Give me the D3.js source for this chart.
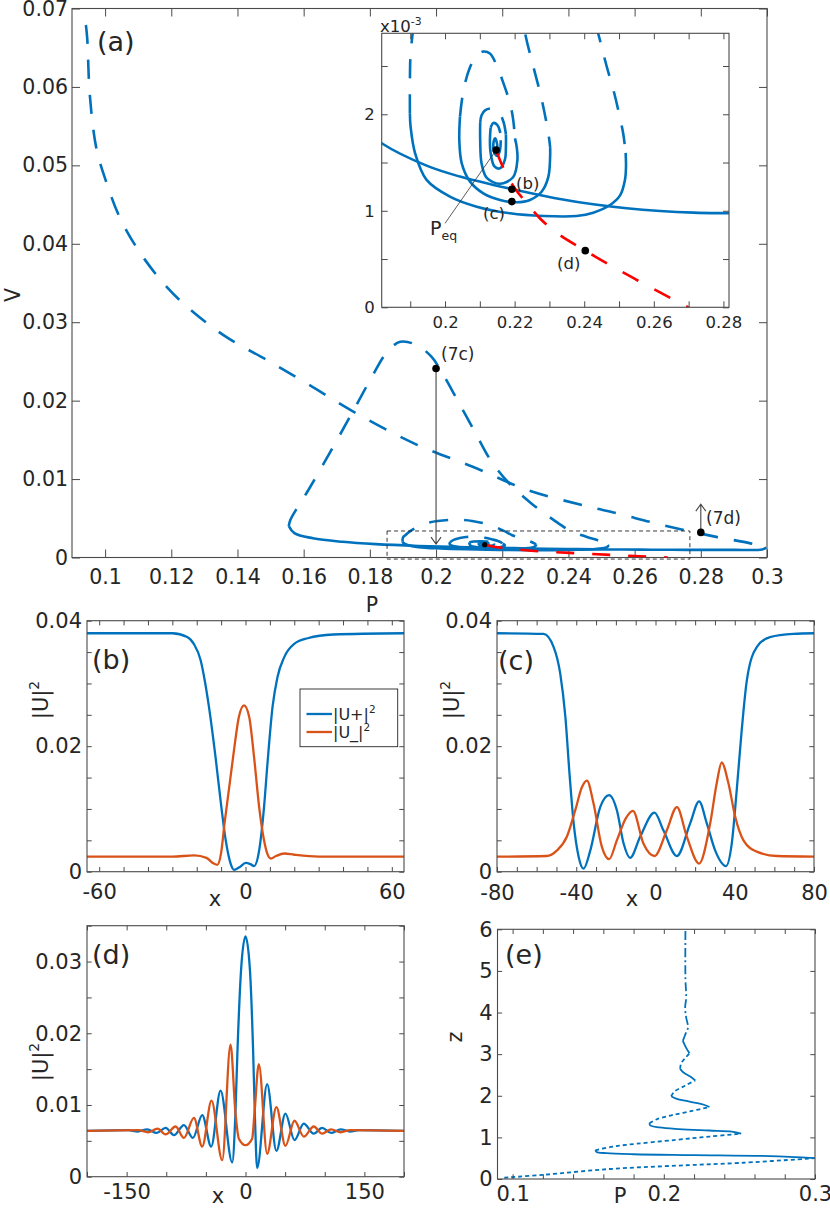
<!DOCTYPE html>
<html>
<head>
<meta charset="utf-8">
<script src="https://cdn.jsdelivr.net/npm/d3@7"></script>
<style>
  body { margin: 0; background: #fff; }
  svg text { font-family: "DejaVu Sans", sans-serif; fill: #262626; }
</style>
</head>
<body>
<script>
// ---------- data ----------
// (a) bifurcation branch: [P, V, stable?]  (0 = unstable/dashed, 1 = stable/solid)
const branch = [
  [0.0942,0.0679,0],[0.0946,0.0662,0],[0.0954,0.0589,0],[0.0974,0.0521,0],[0.1005,0.0477,0],[0.1045,0.0433,0],
  [0.1105,0.0389,0],[0.1186,0.0345,0],[0.1266,0.0313,0],[0.1367,0.0281,0],[0.1488,0.0252,0],[0.1609,0.0222,0],
  [0.175,0.0186,0],[0.1941,0.0144,0],[0.2109,0.0116,0],[0.2277,0.0086,0],[0.245,0.0066,0],[0.255,0.0056,0],
  [0.265,0.0045,0],[0.275,0.0035,0],[0.285,0.0026,0],[0.295,0.0018,0],[0.2998,0.00125,0],
  [0.2998,0.00125,1],[0.2985,0.00102,1],[0.29,0.00097,1],[0.2816,0.000974,1],[0.2714,0.000981,1],[0.2618,0.000998,1],
  [0.2522,0.001026,1],[0.2426,0.001067,1],[0.233,0.001123,1],[0.2235,0.001192,1],[0.2139,0.001268,1],[0.2043,0.001354,1],
  [0.1947,0.001468,1],[0.1818,0.0017,1],[0.1717,0.002,1],[0.1628,0.00245,1],[0.1572,0.0031,1],[0.1555,0.004,1],
  [0.1555,0.004,0],[0.156,0.0048,0],[0.1617,0.0088,0],[0.1689,0.0141,0],[0.1751,0.0188,0],[0.1807,0.0231,0],
  [0.1852,0.0262,0],[0.1892,0.0275,0],[0.1941,0.0271,0],[0.1986,0.0256,0],[0.2019,0.0235,0],[0.2064,0.0201,0],
  [0.212,0.0158,0],[0.2165,0.0124,0],[0.222,0.0095,0],[0.2288,0.0069,0],[0.2355,0.0048,0],[0.241,0.0033,0],
  [0.245,0.0027,0],[0.2465,0.00249,0],[0.2484,0.00225,0],[0.2498,0.00204,0],[0.2512,0.0018,0],[0.2519,0.0016,0],
  [0.2519,0.0016,1],[0.252,0.00146,1],[0.2517,0.00132,1],[0.2503,0.00116,1],[0.2474,0.00106,1],[0.2426,0.00098,1],
  [0.2378,0.000946,1],[0.2283,0.000946,1],[0.2187,0.000974,1],[0.2091,0.001043,1],[0.2014,0.001147,1],[0.1947,0.00132,1],
  [0.1914,0.001596,1],[0.1901,0.001872,1],[0.1899,0.00201,1],
  [0.1899,0.00201,0],[0.1899,0.00232,0],[0.1901,0.00263,0],[0.1907,0.00284,0],[0.192,0.0033,0],[0.1964,0.0043,0],
  [0.2043,0.0048,0],[0.2109,0.00466,0],[0.2165,0.0041,0],[0.2205,0.0034,0],[0.223,0.00284,0],[0.2254,0.00249,0],
  [0.2278,0.00215,0],[0.2297,0.0018,0],[0.2302,0.00166,0],
  [0.2302,0.00166,1],[0.2302,0.00156,1],[0.2297,0.001354,1],[0.2278,0.0012,1],[0.2244,0.001112,1],[0.2206,0.001088,1],
  [0.2158,0.001112,1],[0.211,0.001181,1],[0.2072,0.001302,1],[0.2048,0.001492,1],[0.2041,0.001734,1],[0.2043,0.001976,1],
  [0.2043,0.001976,0],[0.2053,0.00225,0],[0.2072,0.00249,0],[0.2091,0.00261,0],[0.211,0.00265,0],[0.2129,0.00263,0],
  [0.2148,0.00251,0],[0.2168,0.00232,0],[0.2187,0.00211,0],[0.2196,0.00194,0],[0.2201,0.00175,0],
  [0.2201,0.00175,1],[0.2206,0.00166,1],[0.2208,0.00153,1],[0.2196,0.00135,1],[0.2158,0.00128,1],[0.212,0.00134,1],
  [0.2105,0.00149,1],[0.2101,0.00173,1],[0.2101,0.00191,1],
  [0.2101,0.00191,0],[0.2105,0.00199,0],[0.2115,0.00204,0],[0.2134,0.00206,0],[0.2153,0.00203,0],[0.2168,0.00192,0],[0.2175,0.00179,0],
  [0.2175,0.00179,1],[0.2175,0.00167,1],[0.2172,0.00153,1],[0.2158,0.00144,1],[0.2142,0.00146,1],[0.2131,0.0016,1],
  [0.2129,0.00173,1],[0.2131,0.00186,1],
  [0.2131,0.00186,0],[0.2139,0.00191,0],[0.215,0.00189,0],[0.2158,0.00182,0],[0.216,0.00173,0],
  [0.216,0.00173,1],[0.2158,0.00163,1],[0.2151,0.00157,1],[0.2142,0.0016,1],[0.2139,0.0017,1],[0.2144,0.00175,1],
  [0.2148,0.00172,1],[0.215,0.00165,1],[0.2147,0.00163,1]
];
// red (dashed) branch from P_eq
const redP = [0.2147, 0.2172, 0.2201, 0.2235, 0.2273, 0.2311, 0.2403, 0.2551, 0.27];
const redV = [0.00162, 0.00141, 0.00123, 0.00108, 0.00092, 0.0008, 0.000587, 0.000283, 0.0];
// marked points
const pEq = [0.2147, 0.00163];
const ptB = [0.2192, 0.001223];
const ptC = [0.2192, 0.001095];
const ptD = [0.2403, 0.000587];
const pt7c = [0.2, 0.0241], arrow7cEnd = 0.0017;
const pt7d = [0.28, 0.0032], arrow7dEnd = 0.0068;
const zoomBoxP = [0.1852, 0.2767], zoomBoxV = [-0.0002, 0.00338];

// (b) profiles
const bPlusX = [-65,-30,-23.9,-21.2,-18.4,-16.5,-15,-12.3,-9.9,-8.1,-6.1,-4.7,-2.5,0.1,2,3.5,5.6,7.6,9,11.1,13.1,15.9,20,25.5,36,65];
const bPlus  = [0.038,0.038,0.0374,0.0363,0.0337,0.030,0.0263,0.0183,0.0103,0.005,0.0013,0.0003,0.0007,0.0014,0.0012,0.0009,0.0034,0.0103,0.0172,0.0263,0.031,0.0342,0.0363,0.0372,0.0378,0.038];
const bMinusX = [-65,-30,-21,-16,-13,-11.6,-10,-8.6,-6.5,-4.7,-2.7,-0.6,1.5,3.5,5.6,7.6,9,10.4,12.5,15.9,20,30,65];
const bMinus  = [0.0024,0.0024,0.0026,0.0022,0.0013,0.0011,0.003,0.0077,0.014,0.0194,0.0247,0.0265,0.0247,0.0183,0.0103,0.005,0.0028,0.0021,0.0025,0.0029,0.0027,0.0024,0.0024];

// (c) profiles
const cPlusX = [-80,-56.5,-51.4,-48.1,-45.5,-43.4,-41.3,-38.8,-36.3,-32.9,-27.9,-23.4,-19.5,-16.1,-12.8,-7.7,-0.5,4,10.8,17.5,22,25.9,30.1,35.6,38.5,41,43.5,46.1,51.1,57.8,69.6,80];
const cPlus  = [0.038,0.0379,0.0358,0.0316,0.0247,0.0156,0.0077,0.0024,0.0005,0.0034,0.0103,0.0122,0.0098,0.0045,0.0022,0.0056,0.0094,0.0066,0.0025,0.0077,0.0112,0.0077,0.0034,0.0009,0.0045,0.013,0.0225,0.0305,0.0358,0.0374,0.0379,0.038];
const cMinusX = [-80,-55,-49.7,-44.7,-40.5,-37.1,-34.6,-31.3,-27.1,-23.4,-19.5,-15,-11.4,-6.1,-0.5,5.7,10.8,15.8,22,27.6,30.9,33.4,36.8,40.2,44.4,51.1,61.2,80];
const cMinus  = [0.0024,0.0025,0.0034,0.0056,0.0098,0.0135,0.0145,0.0109,0.004,0.002,0.005,0.0085,0.0097,0.0045,0.0025,0.0066,0.0103,0.0056,0.0013,0.0077,0.0141,0.0174,0.0141,0.0088,0.005,0.0032,0.0025,0.0024];

// (d) profiles
const dPlusX = [-200,-148,-136,-124,-112,-100.8,-90.3,-77.7,-66.4,-54.6,-43.3,-31.5,-16.8,-13,-10,-5.5,0,5.5,9.5,12,14.7,27.3,39,50.4,61.8,73.5,86.1,96.6,108,120,132,143,200];
const dPlus  = [0.0064,0.0065,0.0063,0.0066,0.0061,0.0068,0.0058,0.0072,0.0054,0.0086,0.0042,0.012,0.002,0.008,0.018,0.029,0.0335,0.029,0.018,0.008,0.0012,0.0129,0.0036,0.0088,0.0051,0.0074,0.006,0.0068,0.0061,0.0066,0.0063,0.0065,0.0064];
const dMinusX = [-200,-135,-123,-111,-100.8,-88.2,-77.7,-65.1,-54.6,-42.9,-29.4,-18.9,-12.6,-8.4,0,8.4,11.3,16.8,27.3,39,50.4,61.8,73.5,86.1,96.6,108,120,132,200];
const dMinus  = [0.0064,0.0065,0.0062,0.0067,0.0059,0.007,0.0054,0.0082,0.0042,0.0106,0.0023,0.0184,0.0088,0.0053,0.0044,0.0053,0.0088,0.0157,0.0032,0.0097,0.0043,0.0078,0.0056,0.007,0.006,0.0066,0.0062,0.0065,0.0064];

// (e) P(z): [P, z, style]  0 = dotted, 1 = solid, 2 = dash-dot
const pz = [
  [0.0945,0.03,0],[0.12,0.10,0],[0.164,0.24,0],[0.208,0.32,0],[0.2523,0.39,0],[0.2998,0.5,0],
  [0.2998,0.5,1],[0.27,0.55,1],[0.22,0.575,1],[0.18,0.595,1],[0.162,0.62,1],[0.1555,0.65,1],[0.1547,0.69,1],
  [0.1547,0.69,0],[0.165,0.77,0],[0.175,0.82,0],[0.208,0.94,0],[0.2302,1.02,0],[0.2512,1.09,0],
  [0.2512,1.09,1],[0.245,1.14,1],[0.23,1.165,1],[0.21,1.2,1],[0.197,1.24,1],[0.191,1.29,1],[0.1905,1.34,1],
  [0.1905,1.34,0],[0.195,1.43,0],[0.205,1.53,0],[0.218,1.63,0],[0.2302,1.73,0],
  [0.2302,1.73,1],[0.226,1.79,1],[0.217,1.86,1],[0.2082,1.93,1],[0.2049,1.99,1],
  [0.2049,1.99,0],[0.207,2.1,0],[0.214,2.24,0],[0.2208,2.37,0],
  [0.2208,2.37,1],[0.218,2.45,1],[0.2126,2.57,1],[0.2108,2.65,1],
  [0.2108,2.65,0],[0.2115,2.78,0],[0.2145,2.92,0],[0.217,3.02,0],
  [0.217,3.02,1],[0.2148,3.15,1],[0.2126,3.32,1],
  [0.2126,3.32,2],[0.2145,3.5,2],[0.216,3.64,2],[0.2148,3.88,2],[0.2141,4.1,2],[0.2148,4.38,2],[0.2143,4.8,2],[0.2143,6,2]
];

// ticks
const aXTicks = [0.1,0.12,0.14,0.16,0.18,0.2,0.22,0.24,0.26,0.28,0.3];
const aYTicks = [0,0.01,0.02,0.03,0.04,0.05,0.06,0.07];
const iXTicks = [0.19,0.2,0.21,0.22,0.23,0.24,0.25,0.26,0.27,0.28];
const iXLabels = [0.2,0.22,0.24,0.26,0.28];
const iYTicks = [0,0.0005,0.001,0.0015,0.002,0.0025];
const iYLabels = [0,0.001,0.002];
const bXTicks = [-60,-50,-40,-30,-20,-10,0,10,20,30,40,50,60];
const bXLabels = [-60,0,60];
const cXTicks = [-80,-70,-60,-50,-40,-30,-20,-10,0,10,20,30,40,50,60,70,80];
const cXLabels = [-80,-40,0,40,80];
const uYTicks = [0,0.005,0.01,0.015,0.02,0.025,0.03,0.035,0.04];
const uYLabels = [0,0.02,0.04];
const dXTicks = [-200,-150,-100,-50,0,50,100,150,200];
const dXLabels = [-150,0,150];
const dYTicks = [0,0.005,0.01,0.015,0.02,0.025,0.03,0.035];
const dYLabels = [0,0.01,0.02,0.03];
const eXTicks = [0.1,0.12,0.14,0.16,0.18,0.2,0.22,0.24,0.26,0.28,0.3];
const eXLabels = [0.1,0.2,0.3];
const eYTicks = [0,1,2,3,4,5,6];

// ---------- drawing ----------
const BLUE = "#0072BD", ORANGE = "#D95319", RED = "#FF0000", AXC = "#4a4a4a";
const svg = d3.select("body").append("svg").attr("width", 830).attr("height", 1208);
const defs = svg.append("defs");
let clipN = 0;
const has = (arr, d) => arr.some(v => Math.abs(v - d) < 1e-9);
const num = d => String(+d.toFixed(6));

function clipFor(x, y) {
  const id = "clip" + (clipN++);
  const [x0, x1] = x.range(), [y0, y1] = y.range();
  defs.append("clipPath").attr("id", id).append("rect")
    .attr("x", x0).attr("y", y1).attr("width", x1 - x0).attr("height", y0 - y1);
  return "url(#" + id + ")";
}

function axes(g, o) {
  const [x0, x1] = o.x.range(), [y0, y1] = o.y.range();
  const put = (gen, tr) => g.append("g").attr("transform", tr).call(gen)
    .call(s => s.select(".domain").remove())
    .call(s => s.selectAll("line").attr("stroke", AXC).attr("stroke-width", 1))
    .call(s => s.selectAll("text").attr("fill", "#262626").attr("font-size", o.font)
      .attr("font-family", "DejaVu Sans, sans-serif"));
  put(d3.axisBottom(o.x).tickValues(o.xt).tickSize(-o.tick).tickPadding(o.padX)
      .tickFormat(d => has(o.xl, d) ? (o.fx || num)(d) : ""), `translate(0,${y0})`);
  put(d3.axisTop(o.x).tickValues(o.xt).tickSize(-o.tick).tickFormat(""), `translate(0,${y1})`);
  put(d3.axisLeft(o.y).tickValues(o.yt).tickSize(-o.tick).tickPadding(o.padY)
      .tickFormat(d => has(o.yl, d) ? (o.fy || num)(d) : ""), `translate(${x0},0)`);
  put(d3.axisRight(o.y).tickValues(o.yt).tickSize(-o.tick).tickFormat(""), `translate(${x1},0)`);
  g.append("rect").attr("x", x0).attr("y", y1).attr("width", x1 - x0).attr("height", y0 - y1)
    .attr("fill", "none").attr("stroke", AXC).attr("stroke-width", 1.1);
}

function styledRuns(g, pts, x, y, styles, clip) {
  const runs = [];
  let cur = null;
  pts.forEach(p => {
    if (!cur || cur.s !== p[2]) { cur = { s: p[2], pts: [] }; runs.push(cur); }
    cur.pts.push(p);
  });
  const line = d3.line().x(d => x(d[0])).y(d => y(d[1])).curve(d3.curveCatmullRom.alpha(0.5));
  runs.forEach(r => {
    const st = styles[r.s];
    g.append("path").attr("d", line(r.pts)).attr("clip-path", clip)
      .attr("fill", "none").attr("stroke", st.color).attr("stroke-width", st.width)
      .attr("stroke-dasharray", st.dash).attr("stroke-linejoin", "round");
  });
}

function text(g, s, x, y, size, extra) {
  const t = g.append("text").attr("x", x).attr("y", y).attr("font-size", size).text(s);
  if (extra) extra(t);
  return t;
}
function supText(g, base, sup, x, y, size, anchor, rotate) {
  const t = g.append("text").attr("font-size", size).attr("text-anchor", anchor || "start");
  if (rotate) t.attr("transform", `translate(${x},${y}) rotate(-90)`);
  else t.attr("x", x).attr("y", y);
  t.append("tspan").text(base);
  t.append("tspan").attr("font-size", size * 0.66).attr("dy", -size * 0.42).text(sup);
  return t;
}

function arrow(g, x, ya, yb) {
  const dir = yb > ya ? 1 : -1;
  g.append("path")
    .attr("d", `M${x},${ya}V${yb}M${x - 5},${yb - dir * 7}L${x},${yb}L${x + 5},${yb - dir * 7}`)
    .attr("fill", "none").attr("stroke", "#444").attr("stroke-width", 1.1);
}

// ===== panel (a) =====
const xA = d3.scaleLinear().domain([0.09, 0.3]).range([72, 767]);
const yA = d3.scaleLinear().domain([0, 0.07]).range([557.5, 8.5]);
const gA = svg.append("g");
axes(gA, { x: xA, y: yA, xt: aXTicks, xl: aXTicks, yt: aYTicks, yl: aYTicks, tick: 8, font: 20.5, padX: 12, padY: 4 });
const clipA = clipFor(xA, yA);
const branchStyles = [
  { color: BLUE, width: 2.6, dash: "19,16" },
  { color: BLUE, width: 2.6, dash: null }
];
styledRuns(gA, branch, xA, yA, branchStyles, clipA);
const redLine = (x, y) => d3.line().x(d => x(d[0])).y(d => y(d[1])).curve(d3.curveMonotoneX);
gA.append("path").attr("d", redLine(xA, yA)(d3.zip(redP, redV))).attr("clip-path", clipA)
  .attr("fill", "none").attr("stroke", RED).attr("stroke-width", 2.6).attr("stroke-dasharray", "18,18");
// zoom box
gA.append("rect").attr("x", xA(zoomBoxP[0])).attr("y", yA(zoomBoxV[1]))
  .attr("width", xA(zoomBoxP[1]) - xA(zoomBoxP[0])).attr("height", yA(zoomBoxV[0]) - yA(zoomBoxV[1]))
  .attr("fill", "none").attr("stroke", "#222").attr("stroke-width", 0.9).attr("stroke-dasharray", "4,3");
arrow(gA, xA(pt7c[0]), yA(pt7c[1]), yA(arrow7cEnd));
arrow(gA, xA(pt7d[0]), yA(pt7d[1]), yA(arrow7dEnd));
gA.append("circle").attr("cx", xA(pt7c[0])).attr("cy", yA(pt7c[1])).attr("r", 3.8).attr("fill", "#000");
gA.append("circle").attr("cx", xA(pt7d[0])).attr("cy", yA(pt7d[1])).attr("r", 3.8).attr("fill", "#000");
gA.append("circle").attr("cx", xA(pEq[0])).attr("cy", yA(pEq[1])).attr("r", 2.6).attr("fill", "#000");
text(gA, "(7c)", 441, 360, 17);
text(gA, "(7d)", 706, 524, 17);
text(gA, "(a)", 97, 51, 27);
text(gA, "P", 372, 612, 20.5, t => t.attr("text-anchor", "middle"));
text(gA, "V", 0, 0, 20.5, t => t.attr("text-anchor", "middle").attr("transform", "translate(20,295) rotate(-90)"));

// ===== inset =====
const xI = d3.scaleLinear().domain([0.1818, 0.2816]).range([381.7, 729]);
const yI = d3.scaleLinear().domain([0, 0.002839]).range([307.3, 33.3]);
const gI = svg.append("g");
gI.append("rect").attr("x", 381.7).attr("y", 33.3).attr("width", 729 - 381.7).attr("height", 307.3 - 33.3).attr("fill", "#fff");
const clipI = clipFor(xI, yI);
styledRuns(gI, branch, xI, yI, branchStyles, clipI);
gI.append("path").attr("d", redLine(xI, yI)(d3.zip(redP, redV))).attr("clip-path", clipI)
  .attr("fill", "none").attr("stroke", RED).attr("stroke-width", 2.6).attr("stroke-dasharray", "18,18");
// P_eq pointer
gI.append("line").attr("x1", xI(pEq[0])).attr("y1", yI(pEq[1])).attr("x2", xI(0.2)).attr("y2", yI(0.00087))
  .attr("stroke", "#333").attr("stroke-width", 0.8);
[pEq, ptB, ptC, ptD].forEach(p =>
  gI.append("circle").attr("cx", xI(p[0])).attr("cy", yI(p[1])).attr("r", 3.8).attr("fill", "#000"));
axes(gI, { x: xI, y: yI, xt: iXTicks, xl: iXLabels, yt: iYTicks, yl: iYLabels, tick: 6, font: 16.5, padX: 9, padY: 7,
  fy: d => String(Math.round(d * 1000)) });
text(gI, "(b)", 516, 189, 16.5);
text(gI, "(c)", 483, 219, 16.5);
text(gI, "(d)", 557, 269, 16.5);
const peqT = gI.append("text").attr("x", 430).attr("y", 235).attr("font-size", 19);
peqT.append("tspan").text("P");
peqT.append("tspan").attr("font-size", 12.5).attr("dy", 5).text("eq");
supText(gI, "x10", "-3", 380, 32, 16.5);

// ===== panel (b) =====
const xB = d3.scaleLinear().domain([-65, 65]).range([87, 404]);
const yB = d3.scaleLinear().domain([0, 0.04]).range([871.7, 620.7]);
const gB = svg.append("g");
const clipB = clipFor(xB, yB);
const mono = (x, y) => d3.line().x(d => x(d[0])).y(d => y(d[1])).curve(d3.curveMonotoneX);
function profile(g, x, y, xs, ys, color, clip) {
  g.append("path").attr("d", mono(x, y)(d3.zip(xs, ys))).attr("clip-path", clip)
    .attr("fill", "none").attr("stroke", color).attr("stroke-width", 2.3);
}
profile(gB, xB, yB, bPlusX, bPlus, BLUE, clipB);
profile(gB, xB, yB, bMinusX, bMinus, ORANGE, clipB);
axes(gB, { x: xB, y: yB, xt: bXTicks, xl: bXLabels, yt: uYTicks, yl: uYLabels, tick: 4.7, font: 21, padX: 12, padY: 5 });
text(gB, "(b)", 92, 669, 27);
text(gB, "x", 215, 906, 21, t => t.attr("text-anchor", "middle"));
supText(gB, "|U|", "2", 48, 700, 21, "middle", true);
// legend
const lg = gB.append("g");
lg.append("rect").attr("x", 300).attr("y", 689).attr("width", 97.7).attr("height", 57.7)
  .attr("fill", "#fff").attr("stroke", "#262626").attr("stroke-width", 0.9);
[["|U+|", BLUE, 714], ["|U_|", ORANGE, 732]].forEach(([lab, col, yy]) => {
  lg.append("line").attr("x1", 306.5).attr("x2", 332).attr("y1", yy).attr("y2", yy).attr("stroke", col).attr("stroke-width", 2.3);
  supText(lg, lab, "2", 333, yy + 5.5, 16);
});

// ===== panel (c) =====
const xC = d3.scaleLinear().domain([-80, 80]).range([497, 814]);
const yC = d3.scaleLinear().domain([0, 0.04]).range([871.7, 620.7]);
const gC = svg.append("g");
const clipC = clipFor(xC, yC);
profile(gC, xC, yC, cPlusX, cPlus, BLUE, clipC);
profile(gC, xC, yC, cMinusX, cMinus, ORANGE, clipC);
axes(gC, { x: xC, y: yC, xt: cXTicks, xl: cXLabels, yt: uYTicks, yl: uYLabels, tick: 4.7, font: 21, padX: 13, padY: 5 });
text(gC, "(c)", 498, 670, 27);
text(gC, "x", 632, 906, 21, t => t.attr("text-anchor", "middle"));
supText(gC, "|U|", "2", 459, 700, 21, "middle", true);

// ===== panel (d) =====
const xD = d3.scaleLinear().domain([-200, 200]).range([87, 404]);
const yD = d3.scaleLinear().domain([0, 0.035]).range([1176.7, 925.7]);
const gD = svg.append("g");
const clipD = clipFor(xD, yD);
profile(gD, xD, yD, dPlusX, dPlus, BLUE, clipD);
profile(gD, xD, yD, dMinusX, dMinus, ORANGE, clipD);
axes(gD, { x: xD, y: yD, xt: dXTicks, xl: dXLabels, yt: dYTicks, yl: dYLabels, tick: 4.7, font: 21, padX: 7, padY: 5 });
text(gD, "(d)", 92, 964, 27);
text(gD, "x", 218, 1203, 21, t => t.attr("text-anchor", "middle"));
supText(gD, "|U|", "2", 48, 1062, 21, "middle", true);

// ===== panel (e) =====
const xE = d3.scaleLinear().domain([0.09, 0.3]).range([497.5, 815]);
const yE = d3.scaleLinear().domain([0, 6]).range([1179, 929.3]);
const gE = svg.append("g");
const clipE = clipFor(xE, yE);
styledRuns(gE, pz, xE, yE, [
  { color: BLUE, width: 1.8, dash: "4,3" },
  { color: BLUE, width: 1.8, dash: null },
  { color: BLUE, width: 1.8, dash: "9,3,2,3" }
], clipE);
axes(gE, { x: xE, y: yE, xt: eXTicks, xl: eXLabels, yt: eYTicks, yl: eYTicks, tick: 4.7, font: 21, padX: 7, padY: 5 });
text(gE, "(e)", 505, 964, 27);
text(gE, "P", 620, 1203, 21, t => t.attr("text-anchor", "middle"));
text(gE, "z", 0, 0, 21, t => t.attr("text-anchor", "middle").attr("transform", "translate(462,1037) rotate(-90)"));
</script>
</body>
</html>
